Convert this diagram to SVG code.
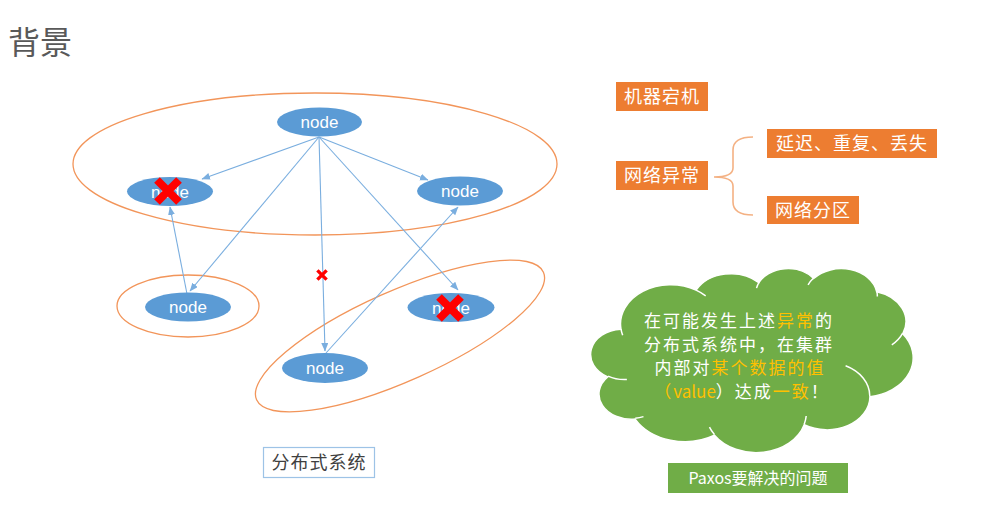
<svg xmlns="http://www.w3.org/2000/svg" width="981" height="532" viewBox="0 0 981 532">
<style>
.cjk{font-family:"Noto Sans CJK SC","Noto Sans",sans-serif}
.node ellipse{fill:#5B9BD5}
.node text{font-family:"Liberation Sans",Arial,sans-serif;font-size:17px;fill:#fff;text-anchor:middle}
.grp{fill:none;stroke:#F2955A;stroke-width:1.3}
.conn line{stroke:#7AAEDF;stroke-width:1.1;marker-end:url(#arr)}
.obox rect{fill:#ED7D31}
.obox text{fill:#fff;font-size:18px;text-anchor:middle;letter-spacing:1px}
.ct{font-size:17px;fill:#fff;letter-spacing:2px}
.y{fill:#FFC000}
</style>
<defs>
<marker id="arr" markerUnits="userSpaceOnUse" markerWidth="9" markerHeight="8" refX="8" refY="3.5" orient="auto">
<path d="M0,0 L8.5,3.5 L0,7 Z" fill="#7AAEDF"/>
</marker>
<g id="bigx"><path d="M-11,-11 L11,11 M11,-11 L-11,11" stroke="#FF0000" stroke-width="8" fill="none"/></g>
</defs>
<rect width="981" height="532" fill="#fff"/>
<text x="8" y="54" class="cjk" font-size="32" fill="#595959">背景</text>

<g id="groups">
<ellipse class="grp" cx="315" cy="164" rx="242" ry="71"/>
<ellipse class="grp" cx="188" cy="306" rx="71" ry="31"/>
<ellipse class="grp" cx="400" cy="336" rx="157" ry="45" transform="rotate(-24 400 336)"/>
</g>

<g id="connectors" class="conn">
<line x1="319" y1="137" x2="202" y2="179"/>
<line x1="319" y1="137" x2="428" y2="180"/>
<line x1="319" y1="137" x2="190" y2="291"/>
<line x1="319" y1="137" x2="325" y2="351"/>
<line x1="319" y1="137" x2="458" y2="290"/>
<line x1="326" y1="353" x2="458" y2="207"/>
<line x1="187" y1="294" x2="170" y2="207"/>
</g>

<g id="node-top" class="node"><ellipse cx="319.5" cy="122" rx="42.5" ry="14.5"/><text x="319.5" y="128">node</text></g>
<g id="node-left" class="node"><ellipse cx="170" cy="191.5" rx="43" ry="14.5"/><text x="170" y="197.5">node</text><use href="#bigx" x="168" y="191"/></g>
<g id="node-right" class="node"><ellipse cx="460" cy="191" rx="43" ry="14.5"/><text x="460" y="197">node</text></g>
<g id="node-bottomleft" class="node"><ellipse cx="188" cy="307" rx="43" ry="14.5"/><text x="188" y="313">node</text></g>
<g id="node-bottomright" class="node"><ellipse cx="451" cy="307.5" rx="43.5" ry="14.5"/><text x="451" y="313.5">node</text><use href="#bigx" x="450" y="308"/></g>
<g id="node-bottom" class="node"><ellipse cx="325" cy="368" rx="43" ry="15"/><text x="325" y="374">node</text></g>
<g id="small-x"><use href="#bigx" transform="translate(322 275) scale(0.42)"/></g>

<g id="label-dist">
<rect x="263.5" y="447.5" width="111" height="30" fill="#fff" stroke="#9DC3E6" stroke-width="1.2"/>
<text x="319" y="469" class="cjk" font-size="18" fill="#404040" text-anchor="middle" letter-spacing="1">分布式系统</text>
</g>

<g id="box-crash" class="obox cjk"><rect x="616" y="82" width="92" height="29"/><text x="662" y="103">机器宕机</text></g>
<g id="box-net" class="obox cjk"><rect x="616" y="161" width="92" height="29"/><text x="662" y="182">网络异常</text></g>
<g id="box-delay" class="obox cjk"><rect x="767" y="129" width="170" height="29"/><text x="852" y="150">延迟、重复、丢失</text></g>
<g id="box-partition" class="obox cjk"><rect x="767" y="196" width="92" height="28"/><text x="813" y="217">网络分区</text></g>
<g id="brace"><path d="M753,137 Q733,137 733,150 L733,168 Q733,177 714,177 Q733,177 733,186 L733,202 Q733,215 753,215" fill="none" stroke="#F4B183" stroke-width="1.6"/></g>

<g id="cloud">
<g transform="translate(592 268) scale(0.0074306 0.0042593)">
<path d="M3900,14370 A6753,9190 0 0 1 14005,5202 A5333,7267 0 0 1 22456,3432 A4365,5945 0 0 1 29832,2479 A4857,6595 0 0 1 38317,5574 A5333,7273 0 0 1 41818,15457 A6775,9220 0 0 1 37405,30203 A5785,7867 0 0 1 28556,36813 A6752,9215 0 0 1 16482,39267 A7720,10543 0 0 1 5806,35473 A4360,5918 0 0 1 2115,25551 A4345,5945 0 0 1 3900,14370 Z" fill="#70AD47" stroke="#fff" stroke-width="1.5" vector-effect="non-scaling-stroke"/>
<path d="M4693,26177 A4345,5945 0 0 1 2160,25380 M6928,34899 A4360,5918 0 0 1 5820,35281 M16478,39090 A6752,9215 0 0 1 15809,37347 M28827,34751 A6752,9215 0 0 1 28560,36660 M34129,22954 A5785,7867 0 0 1 37380,30090 M41798,15354 A5333,7273 0 0 1 40350,18030 M38324,5426 A4857,6595 0 0 1 38400,6690 M29078,3952 A4857,6595 0 0 1 29820,2339 M22141,4720 A4365,5945 0 0 1 22500,3331 M14000,5192 A6753,9190 0 0 1 15299,6540 M4127,15789 A6753,9190 0 0 1 3900,14371" fill="none" stroke="#fff" stroke-width="1.5" vector-effect="non-scaling-stroke"/>
</g>
<text class="cjk ct" text-anchor="middle">
<tspan x="742" y="327">在可能发生上述<tspan class="y">异常</tspan>的</tspan>
<tspan x="742" y="350.5">分布式系统中，在集群</tspan>
<tspan x="743" y="374">内部对<tspan class="y">某个数据的值</tspan></tspan>
<tspan x="742" y="397.5"><tspan class="y">（<tspan letter-spacing="0">value</tspan></tspan>）达成<tspan class="y">一致</tspan>！</tspan>
</text>
</g>

<g id="box-paxos">
<rect x="668" y="463" width="180" height="30" fill="#70AD47"/>
<text x="758" y="484" class="cjk" font-size="16" fill="#fff" text-anchor="middle">Paxos要解决的问题</text>
</g>
</svg>
